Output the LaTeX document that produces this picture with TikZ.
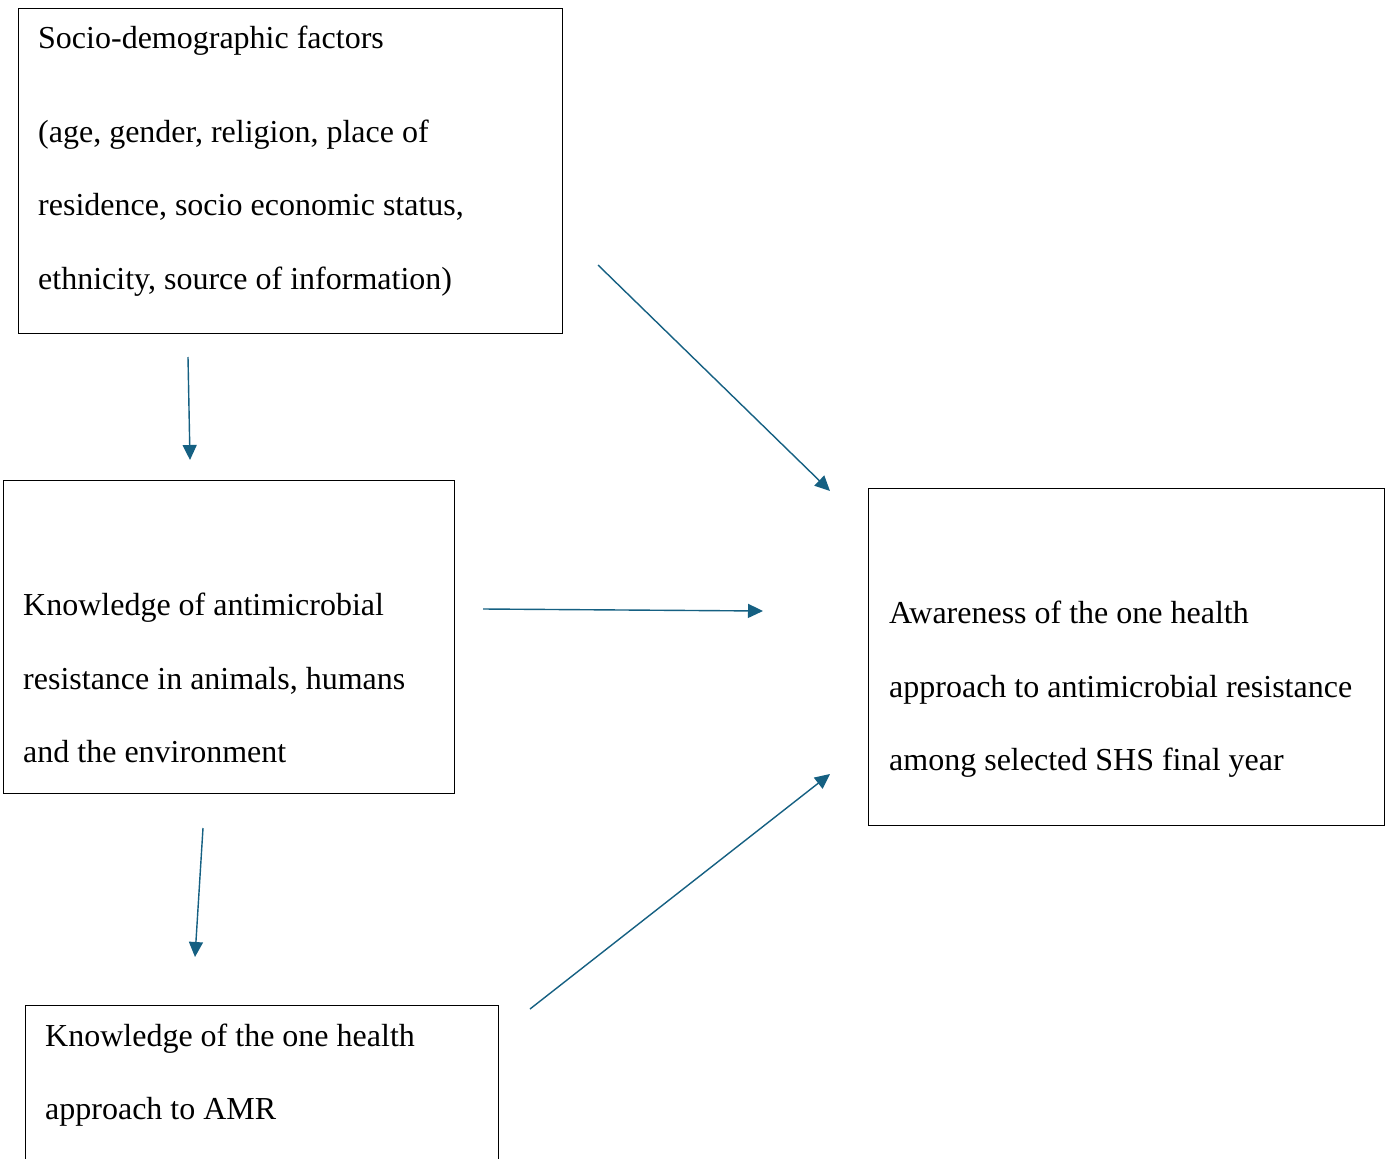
\documentclass[tikz,border=0pt]{standalone}
\usepackage{fontspec}
\setmainfont{Liberation Serif}
\usetikzlibrary{arrows.meta}
\definecolor{arrowblue}{HTML}{156082}
\tikzset{
  box/.style={draw=black, line width=1.2pt, rectangle, anchor=north west, inner sep=0pt},
  txt/.style={anchor=base west, inner sep=0pt, font=\fontsize{32}{38}\selectfont},
  conn/.style={draw=arrowblue, line width=1.4pt, -{Triangle[length=15pt,width=14pt]}}
}
\begin{document}
\begin{tikzpicture}[x=1pt,y=-1pt]
\clip (0,0) rectangle (1392,1159);
\fill[white] (0,0) rectangle (1392,1159);
% boxes
\node[box, minimum width=544pt, minimum height=325pt] (A) at (18,8) {};
\node[box, minimum width=451pt, minimum height=313pt] (B) at (3,480) {};
\node[box, minimum width=473pt, minimum height=200pt] (C) at (25,1005) {};
\node[box, minimum width=516pt, minimum height=337pt] (D) at (868,488) {};
% texts
\node[txt] (a1) at (38,48) {Socio-demographic factors};
\node[txt] (a2) at (38,142) {(age, gender, religion, place of};
\node[txt] (a3) at (38,215) {residence, socio economic status,};
\node[txt] (a4) at (38,289) {ethnicity, source of information)};
\node[txt] (b1) at (23,615) {Knowledge of antimicrobial};
\node[txt] (b2) at (23,689) {resistance in animals, humans};
\node[txt] (b3) at (23,762) {and the environment};
\node[txt] (c1) at (45,1046) {Knowledge of the one health};
\node[txt] (c2) at (45,1119) {approach to AMR};
\node[txt] (d1) at (889,623) {Awareness of the one health};
\node[txt] (d2) at (889,697) {approach to antimicrobial resistance};
\node[txt] (d3) at (889,770) {among selected SHS final year};
% connector ends
\coordinate (s1) at (188,357); \coordinate (e1) at (190,460);
\coordinate (s2) at (598,265); \coordinate (e2) at (830,491);
\coordinate (s3) at (483,609); \coordinate (e3) at (763,611);
\coordinate (s4) at (203,828); \coordinate (e4) at (195,957);
\coordinate (s5) at (530,1009); \coordinate (e5) at (830,774);
\draw[conn] (s1) -- (e1);
\draw[conn] (s2) -- (e2);
\draw[conn] (s3) -- (e3);
\draw[conn] (s4) -- (e4);
\draw[conn] (s5) -- (e5);
\end{tikzpicture}
\end{document}
